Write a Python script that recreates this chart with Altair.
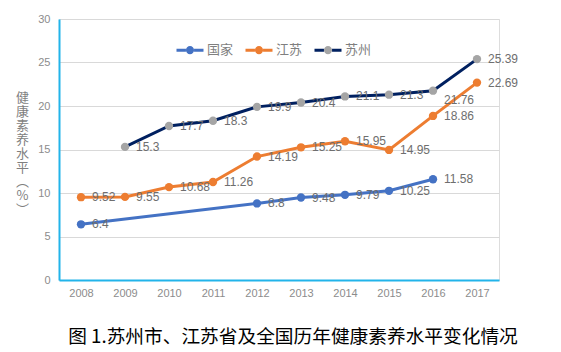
import altair as alt
import pandas as pd

years = ["2008", "2009", "2010", "2011", "2012", "2013", "2014", "2015", "2016", "2017"]
series_names = ["国家", "江苏", "苏州"]
national = [6.4, None, None, None, 8.8, 9.48, 9.79, 10.25, 11.58, None]
jiangsu = [9.52, 9.55, 10.68, 11.26, 14.19, 15.25, 15.95, 14.95, 18.86, 22.69]
suzhou = [None, 15.3, 17.7, 18.3, 19.9, 20.4, 21.1, 21.3, 21.76, 25.39]
y_ticks = [0, 5, 10, 15, 20, 25, 30]
y_title = ["健", "康", "素", "养", "水", "平", "︵", "%", "︶"]
chart_title = "图 1.苏州市、江苏省及全国历年健康素养水平变化情况"

line_colors = ["#4472C4", "#ED7D31", "#002060"]
dot_colors = ["#4472C4", "#ED7D31", "#A5A5A5"]

rows = []
for name, vals in zip(series_names, [national, jiangsu, suzhou]):
    for yr, v in zip(years, vals):
        if v is not None:
            rows.append({"year": yr, "value": v, "series": name, "label": str(v)})
df = pd.DataFrame(rows)

FONT = "Liberation Sans"
CJK = "Noto Sans CJK SC"

x_enc = alt.X("year:N",
              scale=alt.Scale(type="point", domain=years, padding=0.5),
              axis=alt.Axis(title=None, labelAngle=0, ticks=False, grid=False,
                            domainColor="#22B4EA", domainWidth=2,
                            labelColor="#8C8C8C", labelFontSize=11, labelFont=FONT,
                            labelPadding=7))
y_enc = alt.Y("value:Q",
              scale=alt.Scale(domain=[0, 30], nice=False),
              axis=alt.Axis(values=y_ticks, title=y_title, titleAngle=0,
                            titleX=-37, titleY=72, titleAlign="center",
                            titleBaseline="top", titleLineHeight=14,
                            titleFont=CJK, titleFontSize=13, titleFontWeight="normal",
                            titleColor="#7F7F7F",
                            ticks=False, grid=True, gridColor="#D9D9D9",
                            domainColor="#22B4EA", domainWidth=2,
                            labelColor="#8C8C8C", labelFontSize=11, labelFont=FONT,
                            labelPadding=9))

# invisible extent points so both legends measure identical symbol bounds
EXTENT = "M-1,-0.5L-1,-0.5M1,0.5L1,0.5"
leg_common = dict(orient="none", legendX=116, legendY=16, direction="horizontal",
                  title=None, padding=0, labelFont=CJK, labelFontSize=13,
                  labelColor="#7F7F7F", symbolSize=729, columnPadding=5,
                  labelOffset=2, symbolStrokeWidth=3)

lines = alt.Chart(df).mark_line(strokeWidth=3).encode(
    x=x_enc, y=y_enc,
    color=alt.Color("series:N", scale=alt.Scale(domain=series_names, range=line_colors),
                    legend=alt.Legend(symbolType="M-1,0L-0.3,0M0.3,0L1,0" + EXTENT,
                                      **leg_common)),
)

points = alt.Chart(df).mark_circle(size=70, opacity=1).encode(
    x=x_enc, y=y_enc,
    fill=alt.Fill("series:N", scale=alt.Scale(domain=series_names, range=dot_colors),
                  legend=alt.Legend(symbolType="M-0.3,0A0.3,0.3 0 1,0 0.3,0A0.3,0.3 0 1,0 -0.3,0Z" + EXTENT,
                                    symbolStrokeColor="transparent", symbolOpacity=1,
                                    labelOpacity=0, **leg_common)),
)

labels_main = alt.Chart(df).transform_filter(alt.datum.label != "21.76").mark_text(
    align="left", baseline="middle", dx=11, fontSize=12, font=FONT, color="#6E6E6E"
).encode(x=x_enc, y=y_enc, text="label:N")

labels_shift = alt.Chart(df).transform_filter(alt.datum.label == "21.76").mark_text(
    align="left", baseline="middle", dx=11, dy=9, fontSize=12, font=FONT, color="#6E6E6E"
).encode(x=x_enc, y=y_enc, text="label:N")

chart = alt.layer(lines, points, labels_main, labels_shift).properties(
    width=440, height=261,
    autosize=alt.AutoSizeParams(type="none"),
    padding={"left": 59, "top": 19, "right": 62, "bottom": 72},
    title=alt.TitleParams(chart_title, orient="bottom", anchor="middle", dx=14,
                          offset=30, font=CJK, fontSize=18.7, fontWeight="normal",
                          color="#000000"),
).resolve_scale(color="independent", fill="independent").configure_view(stroke=None).configure(background="white")

chart.save("out.html", embed_options={"renderer": "svg", "actions": False})
